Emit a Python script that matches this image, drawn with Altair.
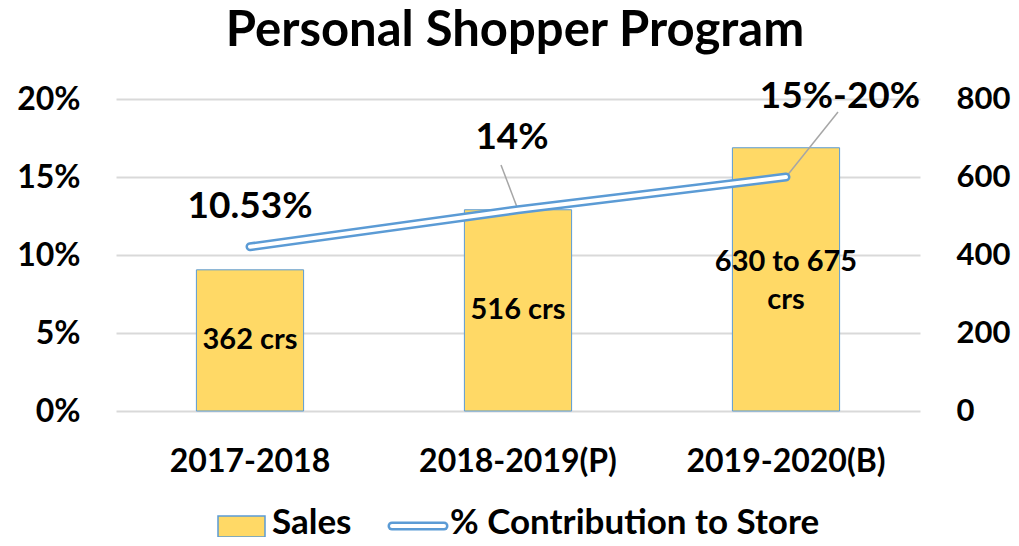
import altair as alt
import pandas as pd

categories = ["2017-2018", "2018-2019(P)", "2019-2020(B)"]
sales = [362, 516, 675]
contribution = [0.1053, 0.129, 0.150]
bar_labels = ["362 crs", "516 crs", "630 to 675\ncrs"]
pct_labels = ["10.53%", "14%", "15%-20%"]

df = pd.DataFrame({
    "category": categories,
    "sales": sales,
    "contribution": contribution,
    "bar_label": bar_labels,
    "pct_label": pct_labels,
})

FONT = "Lato"
BAR_FILL = "#FFD966"
BLUE = "#5B9BD5"
W, H = 804, 312

base = alt.Chart(df)

x_enc = alt.X(
    "category:N", sort=categories, title=None,
    scale=alt.Scale(paddingInner=0.6, paddingOuter=0.3),
    axis=alt.Axis(labelAngle=0, labelFont=FONT, labelFontSize=32, labelFontWeight="bold",
                  labelColor="black", labelPadding=35, labelLimit=0, ticks=False, domain=False),
)

right_axis = alt.Axis(orient="right", values=[0, 200, 400, 600, 800], grid=False,
                      ticks=False, domain=False, labelFont=FONT, labelFontSize=31,
                      labelFontWeight="bold", labelColor="black", labelPadding=36)
sales_scale = alt.Scale(domain=[0, 800])
sales_y = alt.Y("sales:Q", scale=sales_scale, title=None, axis=right_axis)

bars = base.mark_bar(color=BAR_FILL, stroke=BLUE, strokeWidth=1).encode(x=x_enc, y=sales_y)

mid_y = alt.Y("mid:Q", scale=sales_scale, title=None, axis=right_axis)
bar_x = alt.X("category:N", sort=categories)

bar_text_single = base.transform_filter("indexof(datum.bar_label, '\\n') < 0").transform_calculate(
    mid="datum.sales / 2").mark_text(
    font=FONT, fontSize=29, fontWeight="bold", color="black", baseline="middle",
).encode(x=bar_x, y=mid_y, text="bar_label:N")

bar_text_multi = base.transform_filter("indexof(datum.bar_label, '\\n') >= 0").transform_calculate(
    mid="datum.sales / 2").mark_text(
    font=FONT, fontSize=29, fontWeight="bold", color="black", baseline="middle",
    lineBreak="\n", lineHeight=38, dy=-17,
).encode(x=bar_x, y=mid_y, text="bar_label:N")

one = alt.Data(values=[{}])

# title as text
title_text = alt.Chart(alt.Data(values=[{"t": "Personal Shopper Program"}])).mark_text(
    font=FONT, fontSize=49, fontWeight="bold", color="black", align="center",
    baseline="alphabetic"
).encode(x=alt.value(W / 2 - 3), y=alt.value(-53), text="t:N")

# manual legend
legend_rect = alt.Chart(one).mark_rect(
    color=BAR_FILL, stroke=BLUE, strokeWidth=1.5
).encode(x=alt.value(102), x2=alt.value(149), y=alt.value(417), y2=alt.value(438))
legend_line_outer = alt.Chart(one).mark_rule(
    color=BLUE, strokeWidth=9, strokeCap="round"
).encode(x=alt.value(276), x2=alt.value(328), y=alt.value(427))
legend_line_inner = alt.Chart(one).mark_rule(
    color="white", strokeWidth=4, strokeCap="round"
).encode(x=alt.value(276), x2=alt.value(328), y=alt.value(427))
legend_t1 = alt.Chart(alt.Data(values=[{"t": "Sales"}])).mark_text(
    font=FONT, fontSize=35, fontWeight="bold", color="black", align="left", baseline="alphabetic"
).encode(x=alt.value(156), y=alt.value(435), text="t:N")
legend_t2 = alt.Chart(alt.Data(values=[{"t": "% Contribution to Store"}])).mark_text(
    font=FONT, fontSize=35, fontWeight="bold", color="black", align="left", baseline="alphabetic"
).encode(x=alt.value(334), y=alt.value(435), text="t:N")

bar_group = alt.layer(bars, bar_text_single, bar_text_multi, title_text, legend_rect,
                      legend_line_outer, legend_line_inner, legend_t1, legend_t2)

line_y = alt.Y("contribution:Q", scale=alt.Scale(domain=[0, 0.2]), title=None,
               axis=alt.Axis(orient="left", values=[0, 0.05, 0.1, 0.15, 0.2], format=".0%",
                             grid=True, gridColor="#D9D9D9", gridWidth=2, ticks=False,
                             domain=False, labelFont=FONT, labelFontSize=32,
                             labelFontWeight="bold", labelColor="black", labelPadding=36))
line_x = alt.X("category:N", sort=categories)

line_outer = base.mark_line(color=BLUE, strokeWidth=9, strokeCap="round", strokeJoin="round").encode(
    x=line_x, y=line_y)
line_inner = base.mark_line(color="white", strokeWidth=4, strokeCap="round", strokeJoin="round").encode(
    x=line_x, y=line_y)


def pct_label(cat, dx, dy):
    return base.transform_filter(alt.datum.category == cat).mark_text(
        font=FONT, fontSize=37, fontWeight="bold", color="black", baseline="middle",
        dx=dx, dy=dy,
    ).encode(x=line_x, y=line_y, text="pct_label:N")


def leader(cat, x2, y2):
    return base.transform_filter(alt.datum.category == cat).mark_rule(
        color="#A6A6A6", strokeWidth=1.5
    ).encode(x=line_x, y=line_y, x2=alt.value(x2), y2=alt.value(y2))


lead2 = leader(categories[1], 385, 66)
lead3 = leader(categories[2], 722, 13)

line_group = alt.layer(
    lead2, lead3, line_outer, line_inner,
    pct_label(categories[0], 0, -40),
    pct_label(categories[1], -6, -72),
    pct_label(categories[2], 54, -80),
)

chart = alt.layer(bar_group, line_group).resolve_scale(y="independent").properties(
    width=W, height=H,
    autosize=alt.AutoSizeParams(type="none"),
    padding={"left": 108, "top": 91, "right": 91, "bottom": 126},
).configure_view(stroke=None)

chart.save("out.html", embed_options={"renderer": "svg", "actions": False})
